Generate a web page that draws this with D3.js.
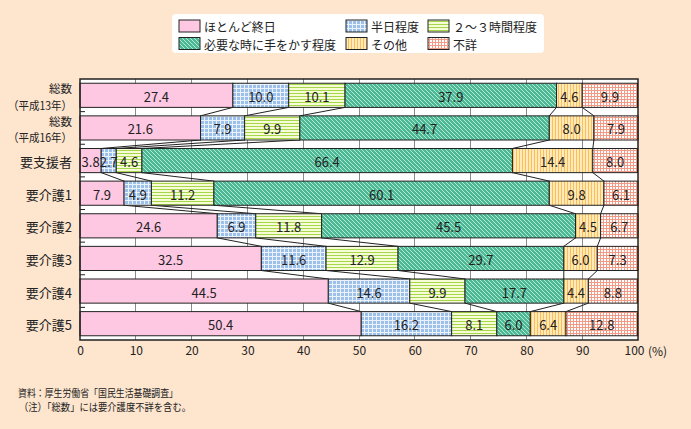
<!DOCTYPE html>
<html><head><meta charset="utf-8">
<script src="https://cdn.jsdelivr.net/npm/d3@7"></script>
<style>
body{margin:0;background:#FDE5CE;}
svg{display:block;font-family:"Noto Sans CJK JP","Noto Sans",sans-serif;}
</style></head>
<body><svg id="c" width="691" height="429"></svg>
<script>
const categories = ["総数（平成13年）","総数（平成16年）","要支援者","要介護1","要介護2","要介護3","要介護4","要介護5"];
const categoryLines = [["総数","（平成13年）"],["総数","（平成16年）"],["要支援者"],["要介護1"],["要介護2"],["要介護3"],["要介護4"],["要介護5"]];
const seriesNames = ["ほとんど終日","半日程度","２～３時間程度","必要な時に手をかす程度","その他","不詳"];
const s1 = [27.4,21.6,3.8,7.9,24.6,32.5,44.5,50.4];
const s2 = [10.0,7.9,2.7,4.9,6.9,11.6,14.6,16.2];
const s3 = [10.1,9.9,4.6,11.2,11.8,12.9,9.9,8.1];
const s4 = [37.9,44.7,66.4,60.1,45.5,29.7,17.7,6.0];
const s5 = [4.6,8.0,14.4,9.8,4.5,6.0,4.4,6.4];
const s6 = [9.9,7.9,8.0,6.1,6.7,7.3,8.8,12.8];
const xTicks = [0,10,20,30,40,50,60,70,80,90,100];
const notes = ["資料：厚生労働省「国民生活基礎調査」","（注）「総数」には要介護度不詳を含む。"];

const series = [s1,s2,s3,s4,s5,s6];
const svg = d3.select("#c");
const W=691,H=429;
svg.append("rect").attr("width",W).attr("height",H).attr("fill","#FDE5CE");

// patterns
const defs = svg.append("defs");
function pat(id,size,bg,draw){
  const p=defs.append("pattern").attr("id",id).attr("patternUnits","userSpaceOnUse").attr("width",size).attr("height",size);
  p.append("rect").attr("width",size).attr("height",size).attr("fill",bg);
  draw(p);
}
pat("p0",4,"#FFC8E2",p=>{});
pat("p1",4,"#9CC0EA",p=>{
  p.append("rect").attr("x",0).attr("y",0).attr("width",4).attr("height",1).attr("fill","#EAF2FB");
  p.append("rect").attr("x",0).attr("y",0).attr("width",1).attr("height",4).attr("fill","#EAF2FB");
});
pat("p2",3,"#F6FCD6",p=>{
  p.append("rect").attr("x",0).attr("y",0).attr("width",3).attr("height",1).attr("fill","#A6D64A");
});
pat("p3",4,"#4DB894",p=>{
  p.append("path").attr("d","M0,0L4,4M-1,3L1,5M3,-1L5,1").attr("stroke","#B4E8D6").attr("stroke-width",1);
});
pat("p4",3,"#FFEABC",p=>{
  p.append("rect").attr("x",0).attr("y",0).attr("width",1).attr("height",3).attr("fill","#FFBE55");
});
pat("p5",3,"#FFFFFF",p=>{
  p.append("rect").attr("x",0).attr("y",0).attr("width",3).attr("height",1).attr("fill","#F39A86");
  p.append("rect").attr("x",0).attr("y",0).attr("width",1).attr("height",3).attr("fill","#F39A86");
});
const fills = ["url(#p0)","url(#p1)","url(#p2)","url(#p3)","url(#p4)","url(#p5)"];

const x = d3.scaleLinear().domain([0,100]).range([80,638]);
const y = d3.scaleBand().domain(categories).range([79,340]).paddingInner(0.26).paddingOuter(0.13);

// plot bg
svg.append("rect").attr("x",80).attr("y",79).attr("width",558).attr("height",261).attr("fill","#fff");
// grid
svg.append("g").selectAll("line").data(xTicks.slice(1,-1)).join("line")
  .attr("x1",d=>x(d)).attr("x2",d=>x(d)).attr("y1",79).attr("y2",340)
  .attr("stroke","#8a8a8a").attr("stroke-width",1).attr("shape-rendering","crispEdges");

// stacked data
const stackData = categories.map((c,i)=>{
  let cum=0; return series.map((s,k)=>{const v=s[i]; const r={cat:c,k,v,x0:cum,x1:cum+v}; cum+=v; return r;});
});

// connector lines
const conn=[];
for(let i=0;i<categories.length-1;i++){
  for(let k=0;k<5;k++){
    conn.push({xa:stackData[i][k].x1, xb:stackData[i+1][k].x1, ya:y(categories[i])+y.bandwidth(), yb:y(categories[i+1])});
  }
}
svg.append("g").selectAll("line").data(conn).join("line")
  .attr("x1",d=>x(d.xa)).attr("x2",d=>x(d.xb)).attr("y1",d=>d.ya).attr("y2",d=>d.yb)
  .attr("stroke","#222").attr("stroke-width",1);

// bars
const segs = stackData.flat();
svg.append("g").selectAll("rect").data(segs).join("rect")
  .attr("x",d=>x(d.x0)).attr("width",d=>x(d.x1)-x(d.x0))
  .attr("y",d=>y(d.cat)).attr("height",y.bandwidth())
  .attr("fill",d=>fills[d.k]).attr("stroke","#222").attr("stroke-width",1);

// labels
svg.append("g").selectAll("text").data(segs).join("text")
  .attr("x",d=>x((d.x0+d.x1)/2)).attr("y",d=>y(d.cat)+y.bandwidth()/2+1)
  .attr("text-anchor","middle").attr("dominant-baseline","central")
  .attr("font-size",13).attr("fill","#222").text(d=>d.v.toFixed(1));

// frame
svg.append("rect").attr("x",80).attr("y",79).attr("width",558).attr("height",261)
  .attr("fill","none").attr("stroke","#222").attr("stroke-width",1.5);

// inner ticks at band boundaries
const bounds = categories.slice(1).map(c=>y(c)-y.step()*y.paddingInner()/2);
svg.append("g").selectAll("line").data(bounds).join("line")
  .attr("x1",80).attr("x2",85).attr("y1",d=>d).attr("y2",d=>d).attr("stroke","#222").attr("stroke-width",1);

// y labels
const yl = svg.append("g");
categories.forEach((c,i)=>{
  const lines = categoryLines[i];
  const cy = y(c)+y.bandwidth()/2;
  lines.forEach((t,j)=>{
    const tx = yl.append("text").attr("x",72).attr("y",cy+(j-(lines.length-1)/2)*16.5+1)
      .attr("text-anchor","end").attr("dominant-baseline","central")
      .attr("font-size",lines.length>1?11.5:13).attr("fill","#222").text(t);
    if(t.length>5) tx.attr("textLength",64).attr("lengthAdjust","spacingAndGlyphs");
  });
});

// x axis
const xa = svg.append("g").attr("transform","translate(0,340)")
  .call(d3.axisBottom(x).tickValues(xTicks).tickSize(0).tickPadding(6).tickFormat(d3.format("d")));
xa.select(".domain").remove();
xa.selectAll("text").attr("font-size",12).attr("fill","#222").attr("font-family","'Noto Sans CJK JP',sans-serif");
xa.selectAll(".tick").filter(d=>d===100).select("text").attr("dx",-4);
svg.append("text").attr("x",648).attr("y",356).attr("font-size",12).attr("fill","#222").text("(%)");

// legend
svg.append("rect").attr("x",172).attr("y",14).attr("width",372).attr("height",39).attr("rx",4).attr("fill","#fff");
const legPos = [[179,20],[346,20],[428,20],[179,37.5],[346,37.5],[428,37.5]];
seriesNames.forEach((n,k)=>{
  const [lx,ly]=legPos[k];
  svg.append("rect").attr("x",lx).attr("y",ly).attr("width",21).attr("height",12)
    .attr("fill",fills[k]).attr("stroke","#222").attr("stroke-width",1);
  svg.append("text").attr("x",lx+25).attr("y",ly+6.5).attr("dominant-baseline","central")
    .attr("font-size",12).attr("fill","#222").text(n);
});

// notes
svg.append("text").attr("x",18).attr("y",397).attr("font-size",10.5).attr("fill","#222")
  .attr("textLength",160).attr("lengthAdjust","spacingAndGlyphs").text(notes[0]);
svg.append("text").attr("x",19).attr("y",411).attr("font-size",10.5).attr("fill","#222")
  .attr("textLength",172).attr("lengthAdjust","spacingAndGlyphs").text(notes[1]);
</script></body></html>
